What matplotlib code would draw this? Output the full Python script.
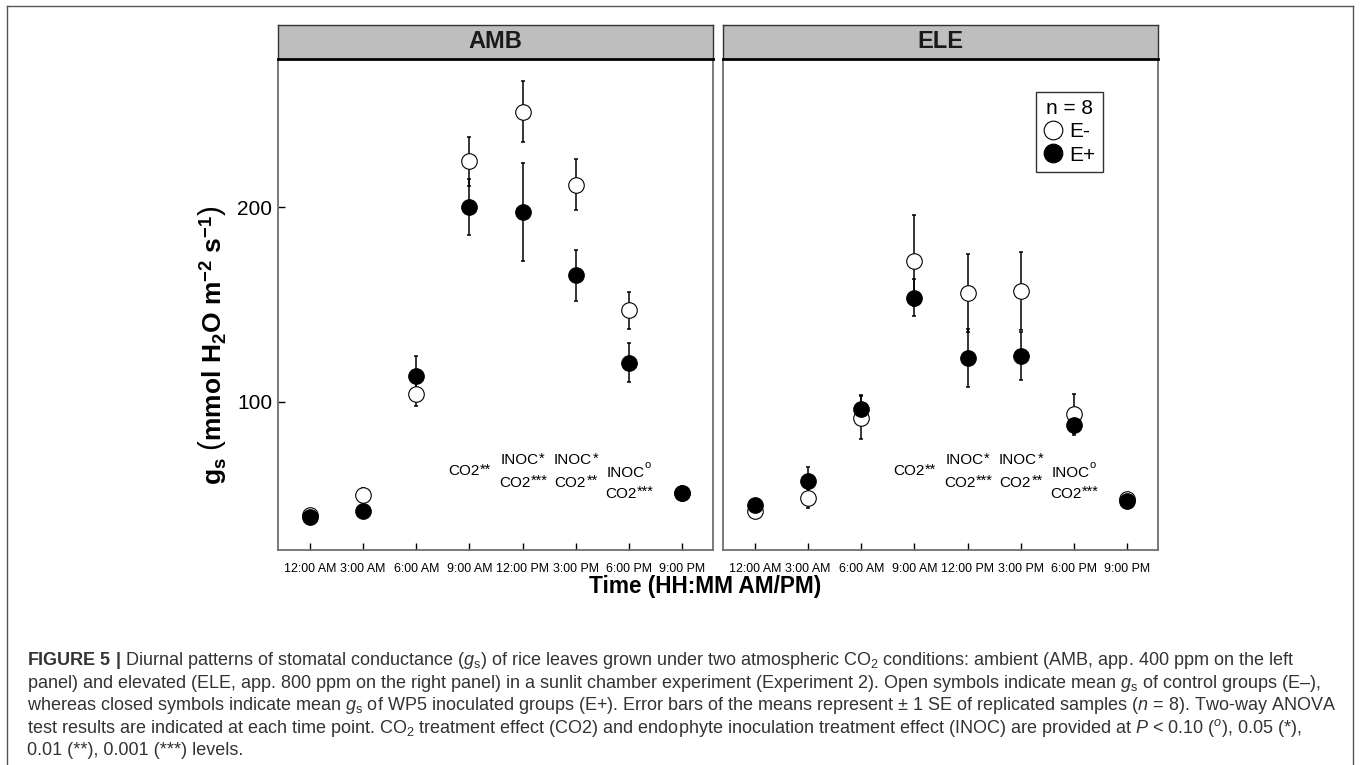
import numpy as np
import matplotlib.pyplot as plt
from matplotlib.lines import Line2D
from matplotlib.transforms import offset_copy

plt.rcParams['font.family'] = ['Liberation Sans', 'DejaVu Sans']
plt.rcParams['mathtext.fontset'] = 'custom'
plt.rcParams['mathtext.rm'] = 'Liberation Sans'
plt.rcParams['mathtext.it'] = 'Liberation Sans:italic'
plt.rcParams['mathtext.bf'] = 'Liberation Sans:bold'
plt.rcParams['mathtext.sf'] = 'Liberation Sans'

times = ['12:00 AM', '3:00 AM', '6:00 AM', '9:00 AM', '12:00 PM', '3:00 PM', '6:00 PM', '9:00 PM']

# AMB panel
amb_open = [42, 52, 104, 223.5, 249, 211.5, 147, 53]
amb_open_se = [1.5, 4, 6, 12.5, 15.5, 13, 9.5, 1.5]
amb_fill = [41, 44, 113.5, 200, 197.5, 165, 120, 53]
amb_fill_se = [1.5, 2, 10, 14.5, 25, 13, 10, 2.5]

# ELE panel
ele_open = [44, 50.5, 92, 172.5, 156, 157, 94, 50]
ele_open_se = [1.5, 5, 11, 23.5, 20, 20, 10, 1.5]
ele_fill = [47, 59.5, 96.5, 153.5, 122.5, 123.5, 88, 49]
ele_fill_se = [1.5, 7, 7, 9.5, 15, 12.5, 5, 1.5]

# ANOVA labels (same in both panels)
anova_x = [3, 4, 4, 5, 5, 6, 6]
anova_y = [64.3, 70, 58.3, 70, 58.3, 63.7, 52.8]
anova_base = ['CO2', 'INOC', 'CO2', 'INOC', 'CO2', 'INOC', 'CO2']
anova_sup = ['**', '*', '***', '*', '**', 'o', '***']

W, H = 1360, 765
fig = plt.figure(figsize=(13.6, 7.65), dpi=100)

def fx(px):
    return px / W

def fy(py):
    return 1 - py / H

panels = [('AMB', 278, amb_open, amb_open_se, amb_fill, amb_fill_se),
          ('ELE', 723, ele_open, ele_open_se, ele_fill, ele_fill_se)]
x = np.arange(len(times))
axes = []
for name, left, op, op_se, fl, fl_se in panels:
    ax = fig.add_axes([fx(left), fy(550), fx(435), (550 - 59) / H])
    ax.errorbar(x, op, yerr=op_se, fmt='none', ecolor='black', elinewidth=1.1,
                capsize=1.3, capthick=1.1, zorder=1)
    ax.errorbar(x, fl, yerr=fl_se, fmt='none', ecolor='black', elinewidth=1.1,
                capsize=1.3, capthick=1.1, zorder=1)
    ax.plot(x, op, 'o', ms=11.2, mfc='white', mec='black', mew=0.8, ls='none',
            zorder=2, label='E-')
    ax.plot(x, fl, 'o', ms=11.2, mfc='black', mec='black', mew=0.8, ls='none',
            zorder=3, label='E+')
    for xi, yi, b, s in zip(anova_x, anova_y, anova_base, anova_sup):
        if s == 'o':
            shift, dx, dy, fs = 3.0, -0.6, 4.0, 8
        else:
            shift, dx, dy, fs = 2.7 * len(s), 0.2, 1.5, 10.5
        tr = offset_copy(ax.transData, fig=fig, x=-shift, y=0, units='dots')
        t = ax.text(xi, yi, b, ha='center', va='center', fontsize=11, transform=tr)
        ax.annotate(s, xy=(1, 1), xycoords=t, xytext=(dx, dy),
                    textcoords='offset points', ha='left', va='top', fontsize=fs)
    ax.set_xlim(-0.6, 7.58)
    ax.set_ylim(24, 276)
    ax.set_xticks(x)
    ax.set_xticklabels(times)
    ax.tick_params(axis='x', direction='in', length=5, width=1, pad=9, labelsize=8.9)
    for sp in ax.spines.values():
        sp.set_color('#6e6e6e')
        sp.set_linewidth(1.3)
    # strip on top
    st = fig.add_axes([fx(left), fy(59), fx(435), (59 - 25) / H])
    st.set_facecolor('#bebebe')
    st.set_xticks([])
    st.set_yticks([])
    for sp in st.spines.values():
        sp.set_color('#333333')
        sp.set_linewidth(1.0)
    st.spines['bottom'].set_color('black')
    st.spines['bottom'].set_linewidth(2)
    st.text(0.5, 0.5, name, ha='center', va='center', fontsize=17,
            fontweight='bold', color='#1a1a1a', transform=st.transAxes)
    axes.append(ax)

ax1, ax2 = axes
ax1.set_yticks([100, 200])
ax1.set_yticklabels(['100', '200'])
ax1.tick_params(axis='y', direction='in', length=5, width=1, pad=4, labelsize=15)
ax2.set_yticks([])

leg = ax2.legend(loc='upper right', bbox_to_anchor=(0.8736, 0.9328), borderaxespad=0,
                 title='n = 8', fontsize=15, title_fontsize=15, frameon=True,
                 fancybox=False, edgecolor='black', handlelength=0.9,
                 handletextpad=0.35, labelspacing=0.2, borderpad=0.35,
                 markerscale=1.2)
leg.get_frame().set_linewidth(1.0)

fig.text(fx(213), fy(345),
         r'$\mathbf{g_s}\ \left(\mathbf{mmol\ H_2O\ m^{-2}\ s^{-1}}\right)$',
         rotation=90, ha='center', va='center', fontsize=19)
fig.text(fx(705), fy(587), 'Time (HH:MM AM/PM)', ha='center', va='center',
         fontsize=16.3, fontweight='bold')

# outer frame of the figure panel
fig.add_artist(Line2D([fx(7), fx(1353)], [fy(5.5), fy(5.5)], color='#555555', lw=1.0))
fig.add_artist(Line2D([fx(7), fx(7)], [fy(5.5), 0], color='#555555', lw=1.0))
fig.add_artist(Line2D([fx(1353), fx(1353)], [fy(5.5), 0], color='#555555', lw=1.0))

caption = [
    r'$\mathbf{FIGURE\ 5\ |}$ Diurnal patterns of stomatal conductance ($\mathit{g}_{\mathrm{s}}$) of rice leaves grown under two atmospheric CO$_2$ conditions: ambient (AMB, app. 400 ppm on the left',
    r'panel) and elevated (ELE, app. 800 ppm on the right panel) in a sunlit chamber experiment (Experiment 2). Open symbols indicate mean $\mathit{g}_{\mathrm{s}}$ of control groups (E–),',
    r'whereas closed symbols indicate mean $\mathit{g}_{\mathrm{s}}$ of WP5 inoculated groups (E+). Error bars of the means represent ± 1 SE of replicated samples ($\mathit{n}$ = 8). Two-way ANOVA',
    r'test results are indicated at each time point. CO$_2$ treatment effect (CO2) and endophyte inoculation treatment effect (INOC) are provided at $\mathit{P}$ < 0.10 ($^{\mathit{o}}$), 0.05 (*),',
    r'0.01 (**), 0.001 (***) levels.',
]
for i, line in enumerate(caption):
    fig.text(fx(27), fy(665 + 22.6 * i), line, ha='left', va='baseline',
             fontsize=13.0, color='#333333')

fig.savefig('out.png', dpi=100)
